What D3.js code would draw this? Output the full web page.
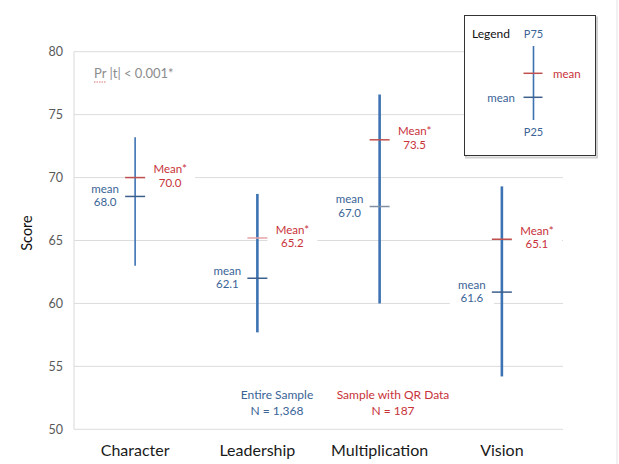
<!DOCTYPE html>
<html><head><meta charset="utf-8">
<script src="https://cdn.jsdelivr.net/npm/d3@7"></script>
<style>body{margin:0;background:#fff}svg{display:block;font-family:Lato,"Open Sans",sans-serif}</style>
</head><body><svg id="c" width="619" height="464"></svg>
<script>
const categories = ["Character","Leadership","Multiplication","Vision"];
const p75 = [73.2, 68.7, 76.6, 69.3];
const p25 = [63.0, 57.7, 60.0, 54.2];
const entireMean = [68.5, 62.0, 67.7, 60.9];
const entireMeanLabels = ["68.0","62.1","67.0","61.6"];
const qrMean = [70.0, 65.2, 73.0, 65.1];
const qrMeanLabels = ["70.0","65.2","73.5","65.1"];
const yTicks = [50,55,60,65,70,75,80];

const svg = d3.select("#c");
const blue = "#3d72b3", blueTxt = "#3a6496", red = "#c8323a";
const x = d3.scaleBand().domain(categories).range([74,563]);
const y = d3.scaleLinear().domain([50,80]).range([429.3,51.7]);
const cx = c => x(c) + x.bandwidth()/2;

svg.append("line").attr("x1",617).attr("x2",617).attr("y1",0).attr("y2",464).attr("stroke","#e3e3e3");

svg.append("g").selectAll("line").data(yTicks).join("line")
  .attr("x1",74).attr("x2",563).attr("y1",d=>y(d)).attr("y2",d=>y(d))
  .attr("stroke","#dcdcdc").attr("stroke-width",1);
svg.append("line").attr("x1",74).attr("x2",74).attr("y1",y(80)).attr("y2",y(50)).attr("stroke","#d9d9d9");

const yAxis = d3.axisLeft(y).tickValues(yTicks).tickSize(0).tickPadding(11);
const ga = svg.append("g").attr("transform","translate(74,0)").call(yAxis);
ga.select(".domain").remove();
ga.selectAll("text").attr("font-size",12.5).attr("fill","#595959").attr("font-family","Lato,sans-serif");

const gx = svg.append("g").attr("transform","translate(0,441)").call(d3.axisBottom(x).tickSize(0).tickPadding(4));
gx.select(".domain").remove();
gx.selectAll("text").attr("font-size",16).attr("fill","#1a1a1a").attr("font-family","Lato,sans-serif");

svg.append("text").attr("transform","translate(32,233) rotate(-90)").attr("text-anchor","middle")
  .attr("font-size",14.5).attr("fill","#111").text("Score");

svg.append("text").attr("x",94).attr("y",78).attr("font-size",13).attr("fill","#8c8c8c").text("Pr |t| < 0.001*");
svg.append("line").attr("x1",94).attr("x2",106).attr("y1",82).attr("y2",82).attr("stroke","#d05050").attr("stroke-width",0.8).attr("stroke-dasharray","1.5,1");

const bg = svg.append("g");
categories.forEach((c,i)=>{
  bg.append("rect").attr("x",cx(c)-30-22).attr("y",y(entireMean[i])-16).attr("width",44).attr("height",30).attr("fill","#fff");
  bg.append("rect").attr("x",cx(c)+35-25).attr("y",y(qrMean[i])-17).attr("width",50).attr("height",30).attr("fill","#fff");
});

svg.append("g").selectAll("line").data(categories).join("line")
  .attr("x1",cx).attr("x2",cx)
  .attr("y1",(d,i)=>y(p75[i])).attr("y2",(d,i)=>y(p25[i]))
  .attr("stroke",blue).attr("stroke-width",(d,i)=>i===0?1.6:2.6);

svg.append("g").selectAll("line").data(categories).join("line")
  .attr("x1",d=>cx(d)-10).attr("x2",d=>cx(d)+10)
  .attr("y1",(d,i)=>y(qrMean[i])).attr("y2",(d,i)=>y(qrMean[i]))
  .attr("stroke",(d,i)=>i===1?"#e6a3a6":"#c0504d").attr("stroke-width",1.5);
svg.append("g").selectAll("line").data(categories).join("line")
  .attr("x1",d=>cx(d)-10).attr("x2",d=>cx(d)+10)
  .attr("y1",(d,i)=>y(entireMean[i])).attr("y2",(d,i)=>y(entireMean[i]))
  .attr("stroke",(d,i)=>i===2?"#8090a4":"#3c5f8c").attr("stroke-width",1.5);

const lab = svg.append("g").attr("font-size",11.5).attr("text-anchor","middle");
categories.forEach((c,i)=>{
  const bx = cx(c)-30, by = y(entireMean[i])-1;
  lab.append("text").attr("x",bx).attr("y",by-6.5).attr("dy","0.35em").attr("fill",blueTxt).text("mean");
  lab.append("text").attr("x",bx).attr("y",by+7).attr("dy","0.35em").attr("fill",blueTxt).text(entireMeanLabels[i]);
  const rx = cx(c)+35, ry = y(qrMean[i])-2;
  lab.append("text").attr("x",rx).attr("y",ry-6.5).attr("dy","0.35em").attr("fill",red).text("Mean*");
  lab.append("text").attr("x",rx).attr("y",ry+7).attr("dy","0.35em").attr("fill",red).text(qrMeanLabels[i]);
});

const notes = svg.append("g").attr("font-size",12).attr("text-anchor","middle");
notes.append("text").attr("x",277).attr("y",394.3).attr("dy","0.35em").attr("fill",blueTxt).text("Entire Sample");
notes.append("text").attr("x",277).attr("y",410.7).attr("dy","0.35em").attr("fill",blueTxt).text("N = 1,368");
notes.append("text").attr("x",393).attr("y",394.3).attr("dy","0.35em").attr("fill",red).text("Sample with QR Data");
notes.append("text").attr("x",393).attr("y",410.7).attr("dy","0.35em").attr("fill",red).text("N = 187");

const lg = svg.append("g");
lg.append("rect").attr("x",465).attr("y",16.5).attr("width",131).attr("height",140).attr("fill","#fff").attr("stroke","#d0d0d0").attr("stroke-width",2).attr("transform","translate(1,1)");
lg.append("rect").attr("x",464.5).attr("y",15.5).attr("width",131).attr("height",140).attr("fill","#fff").attr("stroke","#333").attr("stroke-width",1);
lg.append("text").attr("x",472).attr("y",33.5).attr("dy","0.35em").attr("font-size",12).attr("fill","#111").text("Legend");
lg.append("line").attr("x1",533.5).attr("x2",533.5).attr("y1",46).attr("y2",120).attr("stroke",blue).attr("stroke-width",1.6);
lg.append("line").attr("x1",523.5).attr("x2",542.5).attr("y1",73.3).attr("y2",73.3).attr("stroke","#c0504d").attr("stroke-width",1.5);
lg.append("line").attr("x1",523.5).attr("x2",542.5).attr("y1",97.3).attr("y2",97.3).attr("stroke","#3c5f8c").attr("stroke-width",1.5);
lg.append("text").attr("x",533.5).attr("y",34.3).attr("dy","0.35em").attr("font-size",11).attr("text-anchor","middle").attr("fill",blueTxt).text("P75");
lg.append("text").attr("x",533.5).attr("y",131.7).attr("dy","0.35em").attr("font-size",11).attr("text-anchor","middle").attr("fill",blueTxt).text("P25");
lg.append("text").attr("x",553).attr("y",73.7).attr("dy","0.35em").attr("font-size",11.5).attr("fill",red).text("mean");
lg.append("text").attr("x",515).attr("y",97.7).attr("dy","0.35em").attr("font-size",11.5).attr("text-anchor","end").attr("fill",blueTxt).text("mean");
</script></body></html>
